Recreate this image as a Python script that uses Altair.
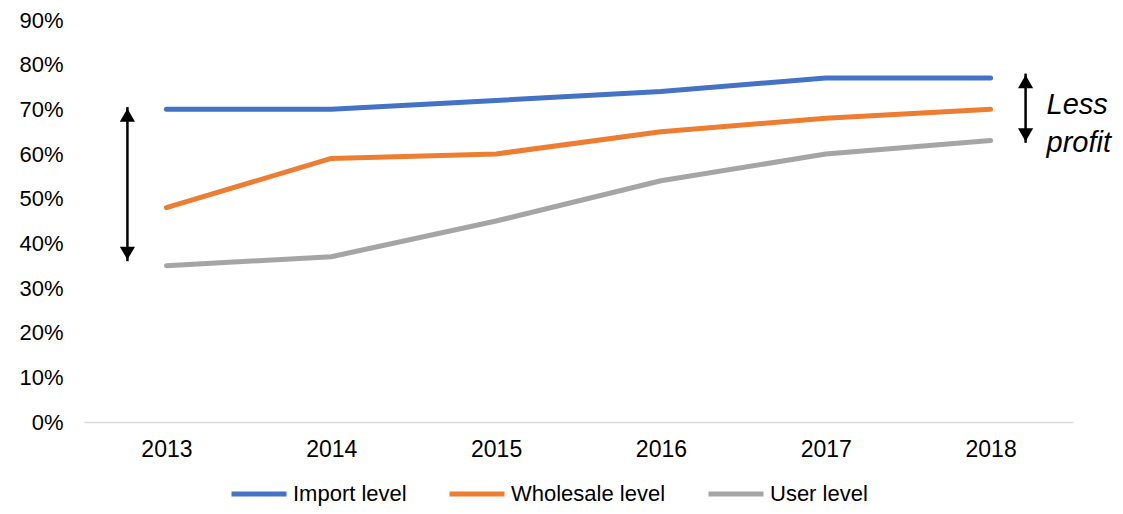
import altair as alt
import pandas as pd

years = ["2013", "2014", "2015", "2016", "2017", "2018"]
import_level = [0.70, 0.70, 0.72, 0.74, 0.77, 0.77]
wholesale_level = [0.48, 0.59, 0.60, 0.65, 0.68, 0.70]
user_level = [0.35, 0.37, 0.45, 0.54, 0.60, 0.63]
series_names = ["Import level", "Wholesale level", "User level"]
series_colors = ["#4472C4", "#ED7D31", "#A5A5A5"]

# arrows: year anchor, top, bottom
left_arrow = {"year": "2013", "top": 0.705, "bottom": 0.36}
right_arrow = {"year": "2018", "top": 0.78, "bottom": 0.625}
note_lines = ["Less", "profit"]
note_y = [0.69, 0.605]

rows = []
for name, vals in zip(series_names, [import_level, wholesale_level, user_level]):
    for y, v in zip(years, vals):
        rows.append({"year": y, "value": v, "series": name})
df = pd.DataFrame(rows)

FONT = "Liberation Sans"

x_enc = alt.X("year:O", scale=alt.Scale(type="point", padding=0.5, domain=years),
              axis=alt.Axis(title=None, labelAngle=0, ticks=False, domainColor="#d9d9d9",
                            domainWidth=1.5, labelFontSize=23, labelPadding=16,
                            labelColor="#000000", labelFont=FONT, grid=False))
y_scale = alt.Scale(domain=[0, 0.9], nice=False)

lines = alt.Chart(df).mark_line(strokeWidth=5, strokeCap="round", strokeJoin="round").encode(
    x=x_enc,
    y=alt.Y("value:Q", scale=y_scale,
            axis=alt.Axis(title=None, format=".0%", values=[i / 10 for i in range(10)],
                          ticks=False, domain=False, grid=False, labelFontSize=22,
                          labelPadding=21, labelColor="#000000", labelFont=FONT)),
    color=alt.Color("series:N", sort=series_names,
                    scale=alt.Scale(domain=series_names, range=series_colors),
                    legend=alt.Legend(title=None, orient="none", direction="horizontal",
                                      legendX=145, legendY=444, symbolType="stroke",
                                      symbolSize=3025, symbolStrokeWidth=5,
                                      labelFontSize=22, labelFont=FONT, labelColor="#000000",
                                      labelOffset=4, columnPadding=32, labelLimit=300)),
    order=alt.value(0),
)

arrows_df = pd.DataFrame([
    {"year": left_arrow["year"], "top": left_arrow["top"], "bottom": left_arrow["bottom"], "off": -39},
    {"year": right_arrow["year"], "top": right_arrow["top"], "bottom": right_arrow["bottom"], "off": 35},
])

def arrow(row):
    d = pd.DataFrame([row])
    off = row["off"]
    xs = alt.X("year:O", scale=alt.Scale(type="point", padding=0.5, domain=years))
    shaft = alt.Chart(d).mark_rule(color="black", strokeWidth=2.5, xOffset=off).encode(
        x=xs, y=alt.Y("top:Q", scale=y_scale), y2="bottom:Q")
    up = alt.Chart(d).mark_point(shape="triangle-up", filled=True, color="black", size=230,
                                 opacity=1, xOffset=off, yOffset=8).encode(
        x=xs, y=alt.Y("top:Q", scale=y_scale))
    down = alt.Chart(d).mark_point(shape="triangle-down", filled=True, color="black", size=230,
                                   opacity=1, xOffset=off, yOffset=-8).encode(
        x=xs, y=alt.Y("bottom:Q", scale=y_scale))
    return shaft + up + down

arrow_layers = arrow(arrows_df.iloc[0].to_dict()) + arrow(arrows_df.iloc[1].to_dict())

note_df = pd.DataFrame({"year": ["2018", "2018"], "y": note_y, "text": note_lines})
note = alt.Chart(note_df).mark_text(align="left", baseline="alphabetic", fontSize=29,
                                    fontStyle="italic", font=FONT, color="black",
                                    xOffset=56).encode(
    x=alt.X("year:O", scale=alt.Scale(type="point", padding=0.5, domain=years)),
    y=alt.Y("y:Q", scale=y_scale), text="text:N")

chart = alt.layer(lines, arrow_layers, note).properties(
    width=989, height=402,
    autosize=alt.AutoSizeParams(type="none"),
    padding={"left": 76, "top": 12, "right": 42, "bottom": 84},
).configure(font=FONT).configure_view(stroke=None, strokeWidth=0)

chart.save("out.html", embed_options={"renderer": "svg", "actions": False})
